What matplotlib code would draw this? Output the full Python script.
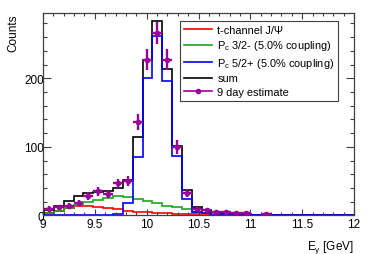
import numpy as np
import matplotlib
matplotlib.use("Agg")
import matplotlib.pyplot as plt
from matplotlib.lines import Line2D
from matplotlib.ticker import MultipleLocator

plt.rcParams["font.family"] = ["Liberation Sans", "DejaVu Sans"]
plt.rcParams["mathtext.fontset"] = "custom"
plt.rcParams["mathtext.rm"] = "Liberation Sans"
plt.rcParams["mathtext.it"] = "Liberation Sans:italic"
plt.rcParams["mathtext.default"] = "regular"

# histogram binning (GeV), first bin starts just left of the axis
bin_start = 8.915
bin_width = 0.095
n_bins = 33

# t-channel J/psi
tchannel = [0.8, 4, 7, 10.5, 13.5, 13.5, 12, 10.5, 9.5, 7, 5.5, 4.5, 3.8, 3.2,
            2.8, 2.5, 1.8, 1.6, 1.3, 1.0, 0.8, 0.6, 0.4, 0.3, 0.2, 0.1,
            0, 0, 0, 0, 0, 0, 0]
# Pc 3/2-
pc32 = [0.7, 4, 7, 11, 15, 19, 22, 25.5, 28, 27, 24.5, 21.5, 18.5, 14.5,
        12, 10, 5, 3.5, 3, 2.2, 1.6, 1.2, 0.8, 0.5, 0.3, 0.2,
        0, 0, 0, 0, 0, 0, 0]
# Pc 5/2+
pc52 = [0, 0, 0, 0, 0, 0, 0, 0, 2, 18, 85, 201, 261, 196,
        87, 24, 5, 3, 1, 0.5, 0, 0, 0, 0, 0, 0,
        0, 0, 0, 0, 0, 0, 0]

# 9 day estimate, bins 1..23 of the histogram (0 = empty)
estimate = [10, 12, 14, 18, 28.5, 35, 31.5, 47, 50, 136, 227, 266, 227, 100,
            33, 9, 7.5, 4.6, 5.5, 3.5, 3, 0, 1.5]
estimate_err = [3.2, 3.5, 3.7, 4.2, 5.3, 5.9, 5.6, 6.9, 7.1, 11.7, 15.1, 16.3,
                15.1, 10.0, 5.7, 3.0, 2.7, 2.1, 2.3, 1.9, 1.7, 0, 1.2]

edges = bin_start + bin_width * np.arange(n_bins + 1)
centers = 0.5 * (edges[:-1] + edges[1:])
total = np.array(tchannel) + np.array(pc32) + np.array(pc52)

RED = "#ff0000"
GREEN = "#1fa31f"
BLUE = "#0000ff"
MAG = "#990099"
FRAME = "#404040"

fig = plt.figure(figsize=(3.74, 2.55), dpi=100)
ax = fig.add_axes([0.115, 0.151, 0.8316, 0.794])

lw = 1.2
ax.stairs(tchannel, edges, color=RED, lw=lw)
ax.stairs(pc32, edges, color=GREEN, lw=lw)
ax.stairs(total, edges, color="black", lw=lw)
ax.stairs(pc52, edges, color=BLUE, lw=lw)

est = np.array(estimate, dtype=float)
err = np.array(estimate_err)
xc = centers[1:1 + len(est)]
keep = est > 0
ax.errorbar(xc[keep], est[keep], yerr=err[keep], xerr=bin_width / 2,
            fmt="o", color=MAG, ms=3, elinewidth=1.7, capsize=0, zorder=5)

ax.set_xlim(9, 12)
ax.set_ylim(0, 295)

ax.xaxis.set_major_locator(MultipleLocator(0.5))
ax.xaxis.set_minor_locator(MultipleLocator(0.1))
ax.yaxis.set_major_locator(MultipleLocator(100))
ax.yaxis.set_minor_locator(MultipleLocator(20))
ax.set_xticks([9, 9.5, 10, 10.5, 11, 11.5, 12])
ax.set_xticklabels(["9", "9.5", "10", "10.5", "11", "11.5", "12"])

ax.tick_params(axis="both", which="both", direction="in", top=True, right=True,
               color=FRAME, labelsize=8.5, width=0.8)
ax.tick_params(axis="x", which="major", length=4.5, pad=2)
ax.tick_params(axis="x", which="minor", length=2.3)
ax.tick_params(axis="y", which="major", length=6, pad=-1)
ax.tick_params(axis="y", which="minor", length=3)
for s in ax.spines.values():
    s.set_color(FRAME)
    s.set_linewidth(0.9)

ax.set_ylabel("Counts", fontsize=8.5, loc="top")
ax.yaxis.set_label_coords(-0.077, 1.0)
ax.set_xlabel("E$_{γ}$ [GeV]", fontsize=8.5, loc="right")
ax.xaxis.set_label_coords(1.0, -0.11)

handles = [
    Line2D([], [], color=RED, lw=lw),
    Line2D([], [], color=GREEN, lw=lw),
    Line2D([], [], color=BLUE, lw=lw),
    Line2D([], [], color="black", lw=lw),
    Line2D([], [], color=MAG, lw=lw, marker="o", ms=3),
]
labels = [
    "t-channel J/Ψ",
    "P$_{c}$ 3/2- (5.0% coupling)",
    "P$_{c}$ 5/2+ (5.0% coupling)",
    "sum",
    "9 day estimate",
]
leg = ax.legend(handles, labels, loc="upper left", bbox_to_anchor=(0.4405, 0.9605),
                fontsize=7.9, frameon=True, fancybox=False, framealpha=1,
                edgecolor=FRAME, borderpad=0.35, labelspacing=0.32,
                handlelength=2.6, handletextpad=0.45, borderaxespad=0)
leg.get_frame().set_linewidth(0.8)

fig.savefig("out.png", dpi=100)
